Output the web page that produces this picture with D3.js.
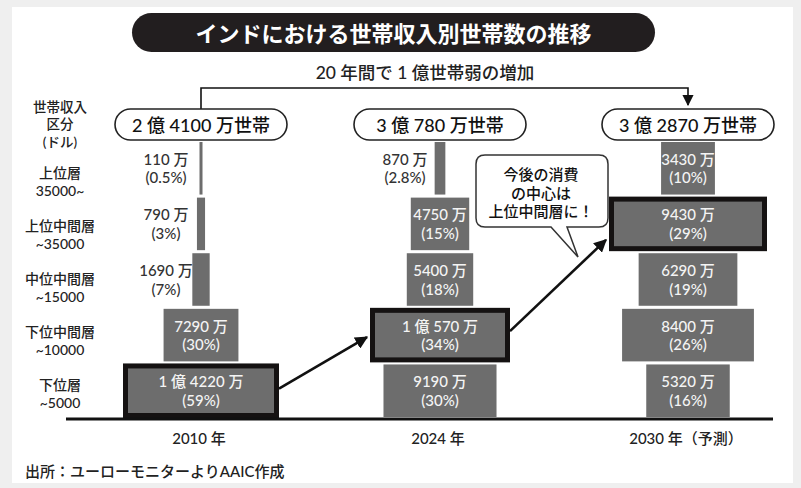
<!DOCTYPE html>
<html><head><meta charset="utf-8">
<script src="https://cdn.jsdelivr.net/npm/d3@7"></script>
<style>
html,body{margin:0;padding:0;background:#efefef;}
svg{display:block;font-family:"Lato","Noto Sans CJK JP","Noto Sans",sans-serif;}
</style></head>
<body>
<script>
// ---------- data ----------
const title = "インドにおける世帯収入別世帯数の推移";
const subtitle = "20 年間で 1 億世帯弱の増加";
const categories = ["上位層","上位中間層","中位中間層","下位中間層","下位層"];
const incomeRanges = ["35000~","~35000","~15000","~10000","~5000"];
const axisHeader = ["世帯収入","区分","(ドル)"];
const years = ["2010 年","2024 年","2030 年（予測）"];
const totals = ["2 億 4100 万世帯","3 億 780 万世帯","3 億 2870 万世帯"];
const values2010 = [110, 790, 1690, 7290, 14220];
const pct2010 = ["0.5%","3%","7%","30%","59%"];
const values2024 = [870, 4750, 5400, 10570, 9190];
const pct2024 = ["2.8%","15%","18%","34%","30%"];
const values2030 = [3430, 9430, 6290, 8400, 5320];
const pct2030 = ["10%","29%","19%","26%","16%"];
const highlighted = ["下位層","下位中間層","上位中間層"];
const calloutLines = ["今後の消費","の中心は","上位中間層に！"];
const source = "出所：ユーローモニターよりAAIC作成";

const seriesValues = [values2010, values2024, values2030];
const seriesPct = [pct2010, pct2024, pct2030];

// ---------- layout ----------
const W = 801, H = 488;
const barColor = "#6d6d6d";
const svg = d3.select("body").append("svg").attr("width", W).attr("height", H);

svg.append("rect").attr("x",12).attr("y",7).attr("width",781).attr("height",476).attr("fill","#fff");

const xCol = d3.scaleOrdinal().domain(years).range([201, 440, 688]);
const y = d3.scaleBand().domain(categories).range([142, 417]).paddingInner(0.055).paddingOuter(0);
const yLabel = d3.scalePoint().domain(categories).range([172, 384]);
const maxW = [146, 130, 148];
const wScales = seriesValues.map((vals, i) => d3.scaleLinear().domain([0, d3.max(vals)]).range([0, maxW[i]]));

function fmt(v){
  if (v >= 10000) return Math.floor(v/10000) + " 億 " + (v % 10000) + " 万";
  return v + " 万";
}

// one <text> with several lines; ys = centre of each line
function multiText(parent, x, ys, lines, opts) {
  const t = parent.append("text").attr("text-anchor", opts.anchor || "middle")
    .attr("font-size", opts.size).attr("fill", opts.fill || "#222")
    .attr("font-weight", opts.weight || 500).attr("dominant-baseline","central");
  lines.forEach((ln, i) => {
    t.append("tspan").attr("x", x).attr("y", ys[i]).attr("dominant-baseline","central").text(ln);
  });
  return t;
}

const defs = svg.append("defs");
defs.append("marker").attr("id","ah").attr("viewBox","0 0 10 10").attr("refX",9).attr("refY",5)
  .attr("markerWidth",5).attr("markerHeight",5).attr("orient","auto")
  .attr("markerUnits","strokeWidth")
  .append("path").attr("d","M0,0 L10,5 L0,10 z").attr("fill","#111");
defs.append("marker").attr("id","ah2").attr("viewBox","0 0 10 10").attr("refX",9).attr("refY",5)
  .attr("markerWidth",7).attr("markerHeight",7).attr("orient","auto")
  .attr("markerUnits","strokeWidth")
  .append("path").attr("d","M0,0 L10,5 L0,10 z").attr("fill","#111");

// title
svg.append("rect").attr("x",132).attr("y",13).attr("width",523).attr("height",39).attr("rx",19.5).attr("fill","#221e1f");
svg.append("text").attr("x",393.5).attr("y",33).attr("text-anchor","middle").attr("dominant-baseline","central")
  .attr("fill","#fff").attr("font-size",22).attr("font-weight",700).text(title);

// subtitle and bracket
svg.append("text").attr("x",425).attr("y",72).attr("text-anchor","middle").attr("dominant-baseline","central")
  .attr("fill","#222").attr("font-size",17.5).attr("font-weight",500).text(subtitle);
svg.append("path").attr("d",`M${xCol(years[0])},109 V88 H${xCol(years[2])} V105`)
  .attr("fill","none").attr("stroke","#111").attr("stroke-width",1.6).attr("marker-end","url(#ah2)");

// axis header
multiText(svg, 60, axisHeader.map((d,i)=>106.5 + i*17.5), axisHeader, {size:13.5});

// row labels
categories.forEach((c, i) => {
  multiText(svg, 60, [yLabel(c), yLabel(c) + 17.5], [c, incomeRanges[i]], {size:14});
});

// total pills
years.forEach((yr, i) => {
  const cx = xCol(yr);
  svg.append("rect").attr("x",cx-86).attr("y",109).attr("width",172).attr("height",31).attr("rx",15.5)
    .attr("fill","#fff").attr("stroke","#222").attr("stroke-width",1.6);
  svg.append("text").attr("x",cx).attr("y",125).attr("text-anchor","middle").attr("dominant-baseline","central")
    .attr("font-size",18).attr("fill","#111").attr("font-weight",500).text(totals[i]);
});

// bars
const boxes = [];
years.forEach((yr, i) => {
  const cx = xCol(yr);
  const g = svg.append("g");
  const rows = categories.map((c, j) => ({c, v: seriesValues[i][j], p: seriesPct[i][j]}));
  rows.forEach(r => {
    const w = Math.max(3, wScales[i](r.v));
    const by = y(r.c), bh = y.bandwidth();
    const isHi = r.c === highlighted[i];
    if (isHi) {
      g.append("rect").attr("x",cx-w/2-5).attr("y",by-1).attr("width",w+10).attr("height",bh+2).attr("fill","#151212");
      g.append("rect").attr("x",cx-w/2).attr("y",by+4).attr("width",w).attr("height",bh-8).attr("fill",barColor);
      boxes.push({left: cx-w/2-5, right: cx+w/2+5, top: by-1, bottom: by+bh+1, cy: by+bh/2});
    } else {
      g.append("rect").attr("x",cx-w/2).attr("y",by).attr("width",w).attr("height",bh).attr("fill",barColor);
    }
    const inside = w > 40;
    const tx = inside ? cx : cx - 35;
    const col = inside ? "#f4f4f4" : "#333";
    const cyy = by + bh/2;
    multiText(g, tx, [cyy-9.5, cyy+9], [fmt(r.v), "(" + r.p + ")"], {size:15, fill:col});
  });
  svg.append("text").attr("x",cx-2).attr("y",438).attr("text-anchor","middle").attr("dominant-baseline","central")
    .attr("font-size",15).attr("fill","#222").attr("font-weight",500).text(yr);
});

// baseline
svg.append("line").attr("x1",66).attr("x2",773).attr("y1",419).attr("y2",419).attr("stroke","#111").attr("stroke-width",3);

// arrows between highlighted boxes
const endOffsets = [2, 16];
const startOffsets = [-2, -4];
for (let k = 0; k < boxes.length - 1; k++) {
  const a = boxes[k], b = boxes[k+1];
  svg.append("line").attr("x1",a.right).attr("y1",a.cy + startOffsets[k])
    .attr("x2",b.left-3).attr("y2",b.cy + endOffsets[k])
    .attr("stroke","#111").attr("stroke-width",2.6).attr("marker-end","url(#ah)");
}

// callout bubble
const bx0 = 476, bx1 = 608, by0 = 155, by1 = 227, rr = 9;
const bubble = `M${bx0+rr},${by0} H${bx1-rr} Q${bx1},${by0} ${bx1},${by0+rr} V${by1-rr} Q${bx1},${by1} ${bx1-rr},${by1}
  H567 L578,257 L551,${by1} H${bx0+rr} Q${bx0},${by1} ${bx0},${by1-rr} V${by0+rr} Q${bx0},${by0} ${bx0+rr},${by0} Z`;
svg.append("path").attr("d",bubble).attr("fill","#fff").attr("stroke","#333").attr("stroke-width",1.5);
multiText(svg, 541, calloutLines.map((d,i)=>174 + i*18.5), calloutLines, {size:15, fill:"#111"});

// source
svg.append("text").attr("x",25).attr("y",471).attr("dominant-baseline","central")
  .attr("font-size",15).attr("fill","#222").attr("font-weight",500).text(source);
</script>
</body></html>
